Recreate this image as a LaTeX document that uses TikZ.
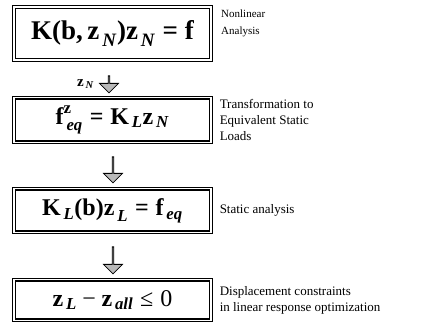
\documentclass[tikz,border=0pt]{standalone}
\usepackage{amsmath}
\usepackage{fontspec}
\setmainfont{Liberation Serif}
\usetikzlibrary{positioning,shapes.arrows}
% bold italic subscripts, set a little apart from their base
\newcommand{\sbi}[1]{\,\textbf{\textit{#1}}}
\newcommand{\eqnonlin}{$\textbf{K(b,\,z}_{\sbi{N}}\textbf{)z}_{\sbi{N}}\mathrel{\textbf{=}}\textbf{f}$}
\newcommand{\eqtrans}{$\textbf{f}^{\textbf{z}}_{\sbi{eq}}\mathrel{\textbf{=}}\textbf{K}_{\sbi{L}}\textbf{z}_{\sbi{N}}$}
\newcommand{\eqstatic}{$\textbf{K}_{\sbi{L}}\textbf{(b)z}_{\sbi{L}}\mathrel{\textbf{=}}\textbf{f}_{\sbi{eq}}$}
\newcommand{\eqcons}{$\textbf{z}_{\sbi{L}}\mathbin{\text{−}}\textbf{z}_{\sbi{all}}\mathrel{\text{≤}}\text{0}$}
\tikzset{
    eqbox/.style={rectangle, draw, double, double distance=1.4pt, line width=1.1pt, minimum width=197pt, align=center},
    flowarrow/.style={single arrow, draw, line width=0.8pt, fill=gray!55, shape border rotate=270, minimum width=19pt, single arrow head extend=4.5pt, inner sep=0pt},
    note/.style={anchor=west, align=left, inner sep=1pt, font=\fontsize{13}{16}\selectfont}
}

\begin{document}
\begin{tikzpicture}
\useasboundingbox (0,0) rectangle (429pt,-334pt);

\node[eqbox, minimum height=53pt, font=\fontsize{27}{30}\selectfont] (boxnonlin) at (112.5pt,-33.5pt) {\eqnonlin};

\node[eqbox, minimum height=44.5pt, font=\fontsize{24}{26}\selectfont] (boxtrans) at (112.5pt,-120pt) {\eqtrans};

\node[eqbox, minimum height=43.5pt, font=\fontsize{24}{26}\selectfont] (boxstatic) at (112.5pt,-210.5pt) {\eqstatic};

\node[eqbox, minimum height=40.5pt, font=\fontsize{24}{26}\selectfont] (boxcons) at (112.5pt,-300pt) {\eqcons};

\node[flowarrow, minimum height=17pt] (arrnonlin) at (109pt,-84pt) {};
\node[flowarrow, minimum height=26pt] (arrtrans) at (113pt,-169.5pt) {};
\node[flowarrow, minimum height=27pt] (arrstatic) at (113pt,-260pt) {};

\node[font=\fontsize{15}{16}\selectfont, left=2pt of arrnonlin] (zN) {$\textbf{z}_{\sbi{N}}$};

\node[note, font=\fontsize{11}{17}\selectfont] (lblnonlin) at (220pt,-23.5pt) {Nonlinear\\Analysis};
\node[note, right=7pt of boxtrans.east] (lbltrans) {Transformation to\\Equivalent Static\\Loads};
\node[note, right=7pt of boxstatic.east] (lblstatic) {Static analysis};
\node[note, right=7pt of boxcons.east] (lblcons) {Displacement constraints\\in linear response optimization};

\end{tikzpicture}
\end{document}
